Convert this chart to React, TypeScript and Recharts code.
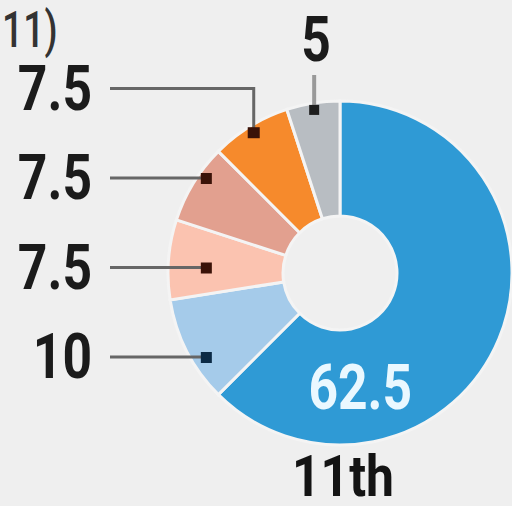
import React from "react";
import {Pie, PieChart, Cell} from "recharts";

const shares = ["62.5", "10", "7.5", "7.5", "7.5", "5"];
const values = [62.5, 10, 7.5, 7.5, 7.5, 5];
const colors = ["#2f9ad5", "#a5cbea", "#fbc3b0", "#e2a08f", "#f68a2c", "#b8bdc2"];
const dotColors = ["#ffffff", "#0b2a45", "#3a1208", "#3a1208", "#3a1208", "#1e1e1e"];
const caption = "11th";
const heading = "11)";

const chartData = values.map((v, i) => ({name: shares[i], value: v}));

const RAD = Math.PI / 180;
const labelFont = {
  fontFamily: "Roboto",
  fontWeight: 700,
  fontSize: 60,
};

const polar = (cx: number, cy: number, r: number, angle: number) => ({
  x: cx + r * Math.cos(-angle * RAD),
  y: cy + r * Math.sin(-angle * RAD),
});

const BigText = ({x, y, anchor, fill, children}: any) => (
  <text
    transform={`translate(${x},${y}) scale(0.86,1.04)`}
    textAnchor={anchor}
    dominantBaseline="central"
    fill={fill}
    style={labelFont}
  >
    {children}
  </text>
);

const renderLabel = (props: any) => {
  const {cx, cy, outerRadius, midAngle, index} = props;
  const R = outerRadius;
  const lineColor = "#666";
  const textRight = 92;
  const lineStart = 110;
  const rowStep = 89.5;

  if (index === 0) {
    // value sits inside the big slice, near the bottom
    const p = polar(cx, cy, R * 0.68, -80);
    return <BigText x={p.x} y={p.y} anchor="middle" fill="#eaf8ff">{shares[index]}</BigText>;
  }

  if (index === values.length - 1) {
    const d = polar(cx, cy, R * 0.96, midAngle);
    return (
      <g>
        <line x1={d.x} y1={d.y} x2={d.x} y2={75} stroke="#999" strokeWidth={4}/>
        <rect x={d.x - 5} y={d.y - 5} width={10} height={10} fill={dotColors[index]}/>
        <BigText x={d.x + 2} y={40} anchor="middle" fill="#1b1b1b">{shares[index]}</BigText>
      </g>
    );
  }

  const rowY = cy + 84 - (index - 1) * rowStep;

  if (index === 4) {
    const d = polar(cx, cy, R * 0.96, midAngle);
    return (
      <g>
        <polyline points={`${lineStart},${rowY} ${d.x},${rowY} ${d.x},${d.y}`} fill="none" stroke={lineColor} strokeWidth={3}/>
        <rect x={d.x - 6} y={d.y - 5} width={12} height={11} fill={dotColors[index]}/>
        <BigText x={textRight} y={rowY} anchor="end" fill="#1b1b1b">{shares[index]}</BigText>
      </g>
    );
  }

  const dx = cx - R * 0.78;
  return (
    <g>
      <line x1={lineStart} y1={rowY} x2={dx} y2={rowY} stroke={lineColor} strokeWidth={3}/>
      <rect x={dx - 5} y={rowY - 5} width={11} height={11} fill={dotColors[index]}/>
      <BigText x={textRight} y={rowY} anchor="end" fill="#1b1b1b">{shares[index]}</BigText>
    </g>
  );
};

const App: React.FC = () => {
  return (
    <div style={{position: "absolute", left: 0, top: 0, width: 512, height: 506, background: "#efefef", overflow: "hidden"}}>
      <PieChart width={512} height={506} margin={{top: 0, right: 0, bottom: 0, left: 0}}>
        <Pie
          data={chartData}
          dataKey="value"
          cx={340}
          cy={273}
          innerRadius={57}
          outerRadius={172}
          startAngle={90}
          endAngle={-270}
          stroke="#f4f4f4"
          strokeWidth={3}
          label={renderLabel}
          labelLine={false}
          isAnimationActive={false}
        >
          {chartData.map((d, i) => (
            <Cell key={i} fill={colors[i]}/>
          ))}
        </Pie>
        <text transform="translate(343,476) scale(0.86,1.0)" textAnchor="middle" dominantBaseline="central" fill="#141414" style={{...labelFont, fontSize: 58}}>
          {caption}
        </text>
        <text transform="translate(2,30) scale(0.75,1)" textAnchor="start" dominantBaseline="central" fill="#333" style={{...labelFont, fontWeight: 500, fontSize: 50}}>
          {heading}
        </text>
      </PieChart>
    </div>
  );
};

export default App;
